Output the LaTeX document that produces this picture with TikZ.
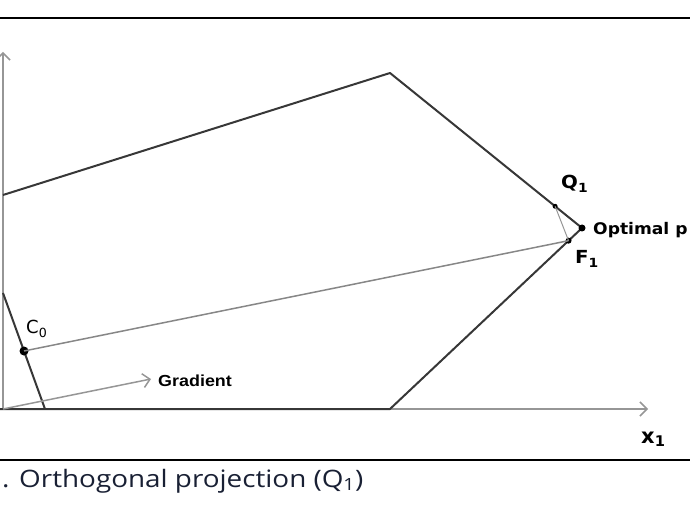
\documentclass[tikz,border=0pt]{standalone}
\usepackage{fontspec}
\setmainfont{Open Sans}
\newfontfamily\lblfont{DejaVu Sans}
\newfontfamily\gradfont{Liberation Sans}
\usepackage{xcolor}
\usetikzlibrary{calc}
\usetikzlibrary{arrows.meta}
\newcommand{\wtxt}[2][1.1]{\scalebox{#1}[1]{#2}}
\definecolor{edgegray}{RGB}{55,55,55}
\definecolor{axisgray}{RGB}{150,150,150}
\definecolor{raygray}{RGB}{135,135,135}
\definecolor{capnavy}{RGB}{25,32,52}

\begin{document}
\begin{tikzpicture}[x=1pt,y=-1pt,
    dot/.style={circle,fill=black,inner sep=0pt,minimum size=#1},
    lbl/.style={inner sep=0pt,anchor=base west,font=\lblfont\bfseries\fontsize{18}{20}\selectfont},
    axis/.style={axisgray,line width=1.5pt,-{Straight Barb[length=7pt,width=14pt]}},
    edge/.style={edgegray,line width=2pt,line join=round}]
                    \useasboundingbox (0,0) rectangle (690,518);
                    \clip (0,0) rectangle (690,518);
                    \draw[black,line width=2pt] (0,18) -- (690,18);
                    \draw[black,line width=2pt] (0,460) -- (690,460);

                    % axes
                    \coordinate (o) at (3,409);
                    \coordinate (ytip) at (3,52);
                    \coordinate (xtip) at (648,409);
                    \draw[axis] (o) -- (ytip);
                    \draw[axis] (o) -- (xtip);

                    % feasible region
                    \coordinate (pA) at (3,195);
                    \coordinate (pB) at (390,73);
                    \coordinate (pC) at (582,228);
                    \coordinate (pD) at (390,409);
                    \coordinate (pE) at (45,409);
                    \coordinate (pF) at (3,293);
                    \coordinate (pG) at (0,409);
                    \draw[edge] (pA) -- (pB) -- (pC) -- (pD) -- (pG);
                    \draw[edge] (pE) -- (pF);

                    % points
                    \node[dot=9pt] (c0) at ($(pE)!0.5!(pF)$) {};
                    \node[dot=5pt] (q1) at ($(pB)!0.86!(pC)$) {};
                    \node[dot=7pt] (opt) at (pC) {};
                    \node[dot=6pt] (f1) at ($(pC)!0.07!(pD)$) {};
                    \draw[raygray,line width=1.5pt] (c0.center) -- (f1.center);
                    \draw[axisgray,line width=1pt] (q1.center) -- (f1.center);

                    % gradient
                    \coordinate (gtip) at (151,379);
                    \draw[axis] (o) -- (gtip);

                    \node[lbl] (lq1) at (561,189) {\wtxt{Q\textsubscript{1}}};
                    \node[lbl,font=\lblfont\bfseries\fontsize{16}{18}\selectfont] (lopt) at (593,235) {\wtxt[1.07]{Optimal p}};
                    \node[lbl] (lf1) at (575,264) {\wtxt{F\textsubscript{1}}};
                    \node[lbl,font=\lblfont\fontsize{18}{20}\selectfont] (lc0) at (26,334) {\wtxt[1.0]{C\textsubscript{0}}};
                    \node[lbl,font=\gradfont\bfseries\fontsize{16}{18}\selectfont] (lgrad) at (158,386) {\wtxt[1.12]{Gradient}};
                    \node[lbl,font=\lblfont\bfseries\fontsize{21}{23}\selectfont] (lx1) at (641,443) {\wtxt[1.0]{x\textsubscript{1}}};

                    \node[inner sep=0pt,anchor=base west,text=capnavy,font=\fontsize{24}{28}\selectfont] (cap) at (2,487) {\wtxt[1.16]{. Orthogonal projection (Q\textsubscript{1})}};
                \end{tikzpicture}
\end{document}
